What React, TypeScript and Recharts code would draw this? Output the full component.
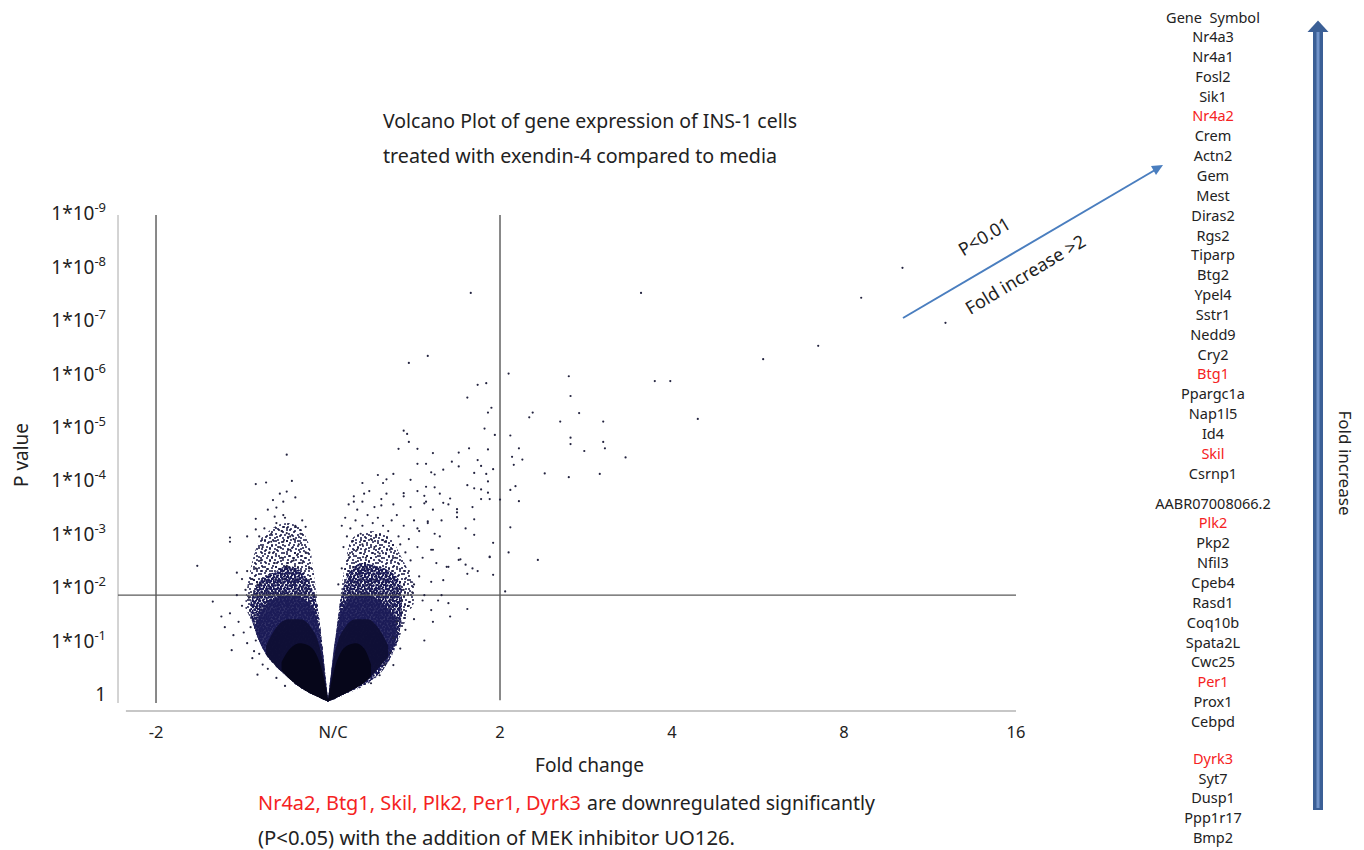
import React from 'react';
import { ComposedChart, Area, Scatter, XAxis, YAxis, ReferenceLine } from 'recharts';

const FONT = "'Noto Sans', 'Open Sans', sans-serif";

// x = log2 fold change, y = -log10 P
const FC_TICKS = [-1, 0, 1, 2, 3, 4];
const FC_LABELS = ['-2', 'N/C', '2', '4', '8', '16'];
const P_TICKS = [0, 1, 2, 3, 4, 5, 6, 7, 8, 9];

// dense cloud of genes near no change, by density: [log2FC, low -log10P, high -log10P]
const LEFT_SPARSE = [
  [-0.48, 1.75, 1.95], [-0.45, 1.55, 2.5], [-0.41, 1.2, 2.95], [-0.36, 0.88, 3.15], [-0.3, 0.65, 3.3],
  [-0.24, 0.47, 3.35], [-0.18, 0.3, 3.3], [-0.13, 0.2, 3.1], [-0.1, 0.15, 2.8], [-0.085, 0.13, 2.45],
  [-0.06, 0.09, 1.85], [-0.03, 0.05, 1.0], [-0.01, 0.02, 0.35], [0, 0, 0.04],
];
const LEFT_DENSE = [
  [-0.45, 1.6, 1.9], [-0.41, 1.22, 2.2], [-0.36, 0.9, 2.35], [-0.3, 0.66, 2.45], [-0.24, 0.48, 2.55],
  [-0.18, 0.31, 2.5], [-0.13, 0.21, 2.35], [-0.09, 0.15, 2.1], [-0.06, 0.1, 1.75], [-0.03, 0.05, 0.95],
  [-0.01, 0.02, 0.33], [0, 0, 0.04],
];
const LEFT_SOLID = [
  [-0.42, 1.3, 1.5], [-0.38, 1.0, 1.75], [-0.3, 0.68, 1.95], [-0.22, 0.43, 2.0], [-0.15, 0.26, 1.95],
  [-0.1, 0.16, 1.8], [-0.06, 0.1, 1.5], [-0.03, 0.05, 0.9], [-0.01, 0.02, 0.3], [0, 0, 0.04],
];
const LEFT_DARK = [
  [-0.36, 0.88, 1.05], [-0.3, 0.66, 1.4], [-0.23, 0.45, 1.55], [-0.16, 0.27, 1.55], [-0.1, 0.16, 1.4],
  [-0.06, 0.1, 1.15], [-0.03, 0.05, 0.75], [-0.01, 0.02, 0.28], [0, 0, 0.04],
];
const LEFT_CORE = [
  [-0.27, 0.6, 0.75], [-0.22, 0.42, 1.0], [-0.16, 0.27, 1.1], [-0.11, 0.17, 1.05], [-0.07, 0.11, 0.9],
  [-0.04, 0.06, 0.65], [-0.015, 0.03, 0.3], [0, 0.01, 0.04],
];
const RIGHT_SPARSE = [
  [0, 0, 0.04], [0.01, 0.02, 0.35], [0.04, 0.05, 1.0], [0.07, 0.09, 1.9], [0.1, 0.14, 2.6],
  [0.13, 0.18, 3.0], [0.18, 0.25, 3.15], [0.25, 0.38, 3.2], [0.32, 0.6, 3.15], [0.38, 0.92, 3.0],
  [0.42, 1.25, 2.75], [0.46, 1.6, 2.5], [0.5, 1.85, 2.2],
];
const RIGHT_DENSE = [
  [0, 0, 0.04], [0.01, 0.02, 0.33], [0.035, 0.05, 0.95], [0.065, 0.1, 1.75], [0.09, 0.14, 2.15],
  [0.13, 0.2, 2.45], [0.2, 0.3, 2.6], [0.27, 0.45, 2.55], [0.33, 0.65, 2.5], [0.38, 0.95, 2.4],
  [0.41, 1.2, 2.3], [0.43, 1.6, 2.15],
];
const RIGHT_SOLID = [
  [0, 0, 0.04], [0.01, 0.02, 0.3], [0.03, 0.05, 0.9], [0.06, 0.1, 1.5], [0.1, 0.16, 1.85],
  [0.16, 0.26, 2.0], [0.23, 0.42, 2.0], [0.3, 0.66, 1.9], [0.36, 0.9, 1.7], [0.4, 1.2, 1.5],
];
const RIGHT_DARK = [
  [0, 0, 0.04], [0.01, 0.02, 0.28], [0.03, 0.05, 0.75], [0.06, 0.1, 1.15], [0.1, 0.16, 1.4],
  [0.16, 0.26, 1.55], [0.23, 0.42, 1.55], [0.3, 0.66, 1.35], [0.35, 0.85, 1.05],
];
const RIGHT_CORE = [
  [0, 0.01, 0.04], [0.015, 0.03, 0.3], [0.04, 0.06, 0.65], [0.07, 0.11, 0.9], [0.11, 0.17, 1.05],
  [0.16, 0.26, 1.1], [0.21, 0.36, 1.0], [0.25, 0.48, 0.7],
];

// individual genes: [log2FC, -log10P]
const UP_GENES = [
  [1.05, 6.15], [1.4, 6.1], [1.41, 5.73], [1.19, 5.42], [1.17, 5.33], [1.46, 5.41], [1.35, 5.25],
  [1.6, 5.25], [1.06, 4.99], [1.41, 4.95], [1.41, 4.83], [1.6, 4.87], [1.61, 4.75], [1.49, 4.7],
  [1.73, 4.58], [1.11, 4.75], [1.07, 4.59], [1.08, 4.44], [1.13, 4.54], [1.26, 4.28], [1.4, 4.21],
  [1.58, 4.27], [1.06, 3.97], [1.09, 4.04], [1.11, 3.76], [1.06, 3.27], [1.05, 2.8], [1.22, 2.66],
  [1.03, 2.07], [1.0, 3.79], [2.15, 5.3], [1.82, 7.66], [1.9, 6.01], [1.99, 6.01], [2.53, 6.42],
  [2.85, 6.67], [3.1, 7.57], [3.34, 8.13], [3.59, 7.1], [0.83, 7.66], [0.58, 6.48], [0.47, 6.35],
  [0.92, 5.97], [0.87, 5.94], [0.81, 5.7], [0.95, 5.51], [0.93, 5.42], [0.91, 5.12], [0.97, 5.0],
  [0.44, 5.08], [0.46, 5.02], [0.47, 4.87],
];
const RIGHT_GENES = [
  [0.09, 2.9], [0.12, 2.75], [0.14, 3.0], [0.17, 2.85], [0.2, 2.95], [0.22, 2.7], [0.25, 3.05],
  [0.27, 2.9], [0.3, 2.78], [0.33, 3.0], [0.36, 2.85], [0.39, 2.7], [0.42, 2.95], [0.45, 2.8],
  [0.48, 2.65], [0.52, 2.9], [0.55, 2.7], [0.11, 3.1], [0.19, 3.15], [0.28, 3.12], [0.35, 3.2],
  [0.41, 3.1], [0.47, 3.05], [0.6, 2.85], [0.63, 2.6], [0.08, 3.3], [0.1, 3.45], [0.13, 3.25],
  [0.16, 3.4], [0.2, 3.3], [0.23, 3.5], [0.26, 3.35], [0.29, 3.45], [0.32, 3.3], [0.37, 3.4],
  [0.4, 3.5], [0.44, 3.3], [0.5, 3.4], [0.53, 3.2], [0.58, 3.35], [0.62, 3.15], [0.66, 3.4],
  [0.17, 3.6], [0.12, 3.7], [0.15, 3.85], [0.2, 3.75], [0.24, 3.95], [0.27, 3.65], [0.31, 3.8],
  [0.34, 3.9], [0.38, 3.7], [0.44, 3.85], [0.48, 3.65], [0.52, 3.95], [0.57, 3.75], [0.61, 3.6],
  [0.65, 3.9], [0.7, 3.7], [0.75, 3.55], [0.2, 4.1], [0.29, 4.25], [0.32, 4.1], [0.34, 4.17],
  [0.38, 4.27], [0.44, 3.91], [0.48, 4.16], [0.52, 4.46], [0.57, 4.46], [0.6, 4.3], [0.62, 4.26],
  [0.67, 4.35], [0.72, 4.5], [0.76, 4.41], [0.87, 4.53], [0.89, 4.42], [0.96, 4.36], [0.92, 4.27],
  [0.85, 4.29], [0.93, 4.13], [0.81, 4.06], [0.85, 4.0], [0.89, 3.98], [0.93, 3.92], [0.57, 4.03],
  [0.62, 4.02], [0.56, 3.86], [0.67, 3.73], [0.71, 3.81], [0.89, 3.8], [0.94, 3.8], [0.56, 3.72],
  [0.21, 3.9], [0.15, 3.75], [0.31, 3.68], [0.75, 3.61], [0.84, 3.65], [0.41, 4.74], [0.52, 4.74],
  [0.61, 4.66], [0.76, 4.67], [0.82, 4.75], [0.93, 4.73], [0.47, 2.45], [0.5, 2.2], [0.53, 2.35],
  [0.56, 2.0], [0.6, 2.25], [0.64, 1.9], [0.67, 2.28], [0.7, 2.53], [0.76, 2.66], [0.84, 2.5],
  [0.81, 2.4], [0.8, 2.57], [0.77, 2.67], [0.87, 2.45], [0.94, 2.72], [0.96, 2.38], [0.96, 2.98],
  [0.94, 2.71], [0.85, 3.13], [0.85, 3.42], [0.8, 3.25], [0.75, 3.46], [0.76, 2.88], [0.69, 2.53],
  [0.65, 3.1], [0.61, 2.85], [0.58, 3.38], [0.52, 3.25], [0.81, 1.74], [0.71, 1.6], [0.61, 1.5],
  [0.6, 1.72], [0.56, 1.15], [0.38, 0.69], [0.36, 0.92], [0.47, 1.8], [0.5, 1.55], [0.45, 1.35],
  [0.42, 1.0], [0.55, 1.9], [0.49, 2.05], [0.66, 2.0], [0.7, 1.85], [0.44, 2.1], [0.4, 1.5],
  [0.43, 1.9], [0.38, 1.2], [0.33, 0.7], [0.3, 0.5], [0.25, 0.35], [0.06, 2.2], [0.08, 2.5],
];
const LEFT_GENES = [
  [-0.42, 2.5], [-0.39, 2.65], [-0.36, 2.45], [-0.34, 2.8], [-0.31, 2.6], [-0.29, 2.9], [-0.27, 2.7],
  [-0.24, 2.55], [-0.22, 2.85], [-0.2, 2.65], [-0.17, 2.95], [-0.15, 2.6], [-0.13, 2.8], [-0.11, 2.5],
  [-0.38, 2.9], [-0.33, 3.0], [-0.26, 3.0], [-0.18, 2.75], [-0.44, 2.3], [-0.47, 2.45], [-0.5, 2.3],
  [-0.53, 2.42], [-0.41, 2.2], [-0.4, 3.1], [-0.37, 3.25], [-0.33, 3.15], [-0.3, 3.35], [-0.27, 3.2],
  [-0.25, 3.45], [-0.22, 3.1], [-0.19, 3.3], [-0.16, 3.15], [-0.13, 3.28], [-0.24, 3.16], [-0.2, 3.05],
  [-0.47, 3.1], [-0.42, 3.23], [-0.57, 3.08], [-0.57, 3.0], [-0.31, 3.47], [-0.26, 3.5], [-0.15, 3.4],
  [-0.3, 3.64], [-0.26, 3.75], [-0.19, 3.83], [-0.24, 3.94], [-0.21, 4.14], [-0.36, 4.11],
  [-0.42, 4.08], [-0.24, 4.63], [-0.28, 3.9], [-0.32, 3.78], [-0.42, 3.43], [-0.35, 3.6],
  [-0.76, 2.55], [-0.67, 1.88], [-0.57, 1.66], [-0.56, 0.97], [-0.44, 0.82], [-0.41, 0.51],
  [-0.52, 1.5], [-0.49, 1.3], [-0.5, 1.8], [-0.47, 1.1], [-0.53, 2.0], [-0.48, 2.1], [-0.46, 1.95],
  [-0.43, 0.95], [-0.38, 0.7], [-0.35, 0.62], [-0.3, 0.45], [-0.25, 0.3], [-0.55, 1.25], [-0.6, 1.4],
  [-0.62, 1.6], [-0.45, 1.4], [-0.42, 1.15], [-0.4, 0.9], [-0.1, 2.3], [-0.08, 2.0],
];

const GENES = [
  'Nr4a3', 'Nr4a1', 'Fosl2', 'Sik1', 'Nr4a2', 'Crem', 'Actn2', 'Gem', 'Mest', 'Diras2', 'Rgs2',
  'Tiparp', 'Btg2', 'Ypel4', 'Sstr1', 'Nedd9', 'Cry2', 'Btg1', 'Ppargc1a', 'Nap1l5', 'Id4', 'Skil',
  'Csrnp1', 'AABR07008066.2', 'Plk2', 'Pkp2', 'Nfil3', 'Cpeb4', 'Rasd1', 'Coq10b', 'Spata2L',
  'Cwc25', 'Per1', 'Prox1', 'Cebpd', 'Dyrk3', 'Syt7', 'Dusp1', 'Ppp1r17', 'Bmp2',
];
const MEK_GENES = ['Nr4a2', 'Btg1', 'Skil', 'Plk2', 'Per1', 'Dyrk3'];

const toPoints = (rows: number[][]) => rows.map(([x, y]) => ({ x, y }));
const toBand = (rows: number[][]) => rows.map(([x, lo, hi]) => ({ x, band: [lo, hi] }));

const GeneDot = (props: any) => <circle cx={props.cx} cy={props.cy} r={1.1} fill="#23233f" />;

const PTick = ({ y, payload }: any) => {
  const v = payload.value;
  return (
    <text x={106} y={y - 1} textAnchor="end" fontSize={19} fill="#222" fontFamily={FONT}>
      {v === 0 ? '1' : '1*10'}
      {v !== 0 && (
        <tspan dy={-8} fontSize={13}>
          -{v}
        </tspan>
      )}
    </text>
  );
};

const FcTick = ({ x, payload }: any) => (
  <text x={payload.value === 0 ? x + 5 : x} y={738} textAnchor="middle" fontSize={16.5} fill="#222" fontFamily={FONT}>
    {FC_LABELS[FC_TICKS.indexOf(payload.value)]}
  </text>
);

const geneY = (i: number) => 37 + i * 19.85 + (i >= 23 ? 10 : 0) + (i >= 35 ? 17 : 0);

const cloud = (rows: number[][], fill: string, opacity = 1) => (
  <Area data={toBand(rows)} dataKey="band" type="monotone" stroke="none" fill={fill} fillOpacity={opacity} isAnimationActive={false} />
);

const speck = (id: string, w: number, h: number, dots: number[][], r: number, color: string) => (
  <pattern id={id} width={w} height={h} patternUnits="userSpaceOnUse">
    {dots.map(([cx, cy], i) => (
      <circle key={i} cx={cx} cy={cy} r={r} fill={color} />
    ))}
  </pattern>
);

export default function App() {
  return (
    <div style={{ position: 'absolute', left: 0, top: 0, width: 1364, height: 850, background: '#fff' }}>
      {/* speckle textures for the dense gene cloud */}
      <svg width={0} height={0} style={{ position: 'absolute' }}>
        <defs>
          {speck('speckA', 13, 11, [[1, 2], [5, 1], [9, 3], [12, 7], [3, 6], [7, 8], [10, 10], [2, 10]], 1.0, '#18184a')}
          {speck('speckB', 11, 13, [[2, 4], [6, 2], [9, 7], [4, 10], [8, 12], [1, 8]], 1.0, '#10103a')}
          {speck('speckC', 7, 6, [[1, 1], [4, 0.5], [6, 3], [2.5, 3.5], [5, 5.5], [0.5, 5]], 1.2, '#161650')}
          {speck('speckD', 9, 8, [[3, 2], [7.5, 1], [1, 5], [5.5, 6], [8, 4.5]], 1.2, '#1c1c5c')}
        </defs>
      </svg>

      <ComposedChart width={1364} height={850} margin={{ top: 215, right: 348, bottom: 79, left: 18 }}>
        <XAxis
          type="number"
          dataKey="x"
          domain={[-1.221, 4.0]}
          ticks={FC_TICKS}
          tick={<FcTick />}
          tickLine={false}
          axisLine={false}
          height={60}
          allowDataOverflow
        />
        <YAxis
          type="number"
          domain={[-0.17, 9.12]}
          ticks={P_TICKS}
          tick={<PTick />}
          tickLine={false}
          axisLine={false}
          width={100}
          allowDataOverflow
        />
        {cloud(LEFT_SPARSE, 'url(#speckA)')}
        {cloud(LEFT_SPARSE, 'url(#speckB)')}
        {cloud(RIGHT_SPARSE, 'url(#speckA)')}
        {cloud(RIGHT_SPARSE, 'url(#speckB)')}
        {cloud(LEFT_DENSE, 'url(#speckC)')}
        {cloud(RIGHT_DENSE, 'url(#speckC)')}
        {cloud(LEFT_DENSE, 'url(#speckD)')}
        {cloud(RIGHT_DENSE, 'url(#speckD)')}
        {cloud(LEFT_SOLID, '#1c1c58', 0.9)}
        {cloud(RIGHT_SOLID, '#1c1c58', 0.9)}
        {cloud(LEFT_DARK, '#0e0e33', 0.92)}
        {cloud(RIGHT_DARK, '#0e0e33', 0.92)}
        {cloud(LEFT_CORE, '#06061a')}
        {cloud(RIGHT_CORE, '#06061a')}
        <Scatter data={toPoints(LEFT_GENES)} dataKey="y" shape={<GeneDot />} isAnimationActive={false} />
        <Scatter data={toPoints(RIGHT_GENES)} dataKey="y" shape={<GeneDot />} isAnimationActive={false} />
        <Scatter data={toPoints(UP_GENES)} dataKey="y" shape={<GeneDot />} isAnimationActive={false} />
        <ReferenceLine segment={[{ x: -1.221, y: -0.02 }, { x: -1.221, y: 9.12 }]} stroke="#a8a8a8" strokeWidth={1} />
        <ReferenceLine segment={[{ x: -1.175, y: -0.17 }, { x: 4.0, y: -0.17 }]} stroke="#b4b4b4" strokeWidth={1.5} />
        <ReferenceLine segment={[{ x: -1, y: -0.02 }, { x: -1, y: 9.12 }]} stroke="#4a4a4a" strokeWidth={1.3} />
        <ReferenceLine segment={[{ x: 1, y: 0.03 }, { x: 1, y: 9.12 }]} stroke="#4a4a4a" strokeWidth={1.3} />
        <ReferenceLine y={2} stroke="#5a5a5a" strokeWidth={1.3} />
      </ComposedChart>

      <svg width={1364} height={850} style={{ position: 'absolute', left: 0, top: 0, pointerEvents: 'none' }} fontFamily={FONT}>
        <text x={383} y={128} fontSize={20} fill="#222" textLength={414} lengthAdjust="spacingAndGlyphs">
          Volcano Plot of gene expression of INS-1 cells
        </text>
        <text x={383} y={163} fontSize={20} fill="#222" textLength={394} lengthAdjust="spacingAndGlyphs">
          treated with exendin-4 compared to media
        </text>

        <text transform="translate(21,455) rotate(-90)" textAnchor="middle" dominantBaseline="central" fontSize={19} fill="#222">
          P value
        </text>
        <text x={535} y={772} fontSize={19} fill="#222" textLength={109} lengthAdjust="spacingAndGlyphs">
          Fold change
        </text>

        <text x={258} y={810} fontSize={19} fill="#f52222" textLength={323} lengthAdjust="spacingAndGlyphs">
          {MEK_GENES.join(', ')}
        </text>
        <text x={587} y={810} fontSize={19} fill="#222" textLength={288} lengthAdjust="spacingAndGlyphs">
          are downregulated significantly
        </text>
        <text x={258} y={845} fontSize={19} fill="#222" textLength={477} lengthAdjust="spacingAndGlyphs">
          (P&lt;0.05) with the addition of MEK inhibitor UO126.
        </text>

        {/* annotation arrow */}
        <line x1={903} y1={318} x2={1155} y2={170} stroke="#4a7ebf" strokeWidth={2} />
        <polygon points="1163,165 1156,175 1151,166" fill="#4a7ebf" />
        <text transform="translate(984,236) rotate(-31)" textAnchor="middle" dominantBaseline="central" fontSize={18} fill="#222">
          P&lt;0.01
        </text>
        <text transform="translate(1025,274) rotate(-31)" textAnchor="middle" dominantBaseline="central" fontSize={18} fill="#222">
          Fold increase &gt;2
        </text>

        {/* gene list */}
        <text x={1213} y={23} textAnchor="middle" fontSize={14.5} fill="#222">
          Gene{'\u00a0\u00a0'}Symbol
        </text>
        {GENES.map((g, i) => (
          <text key={g} x={1213} y={geneY(i) + 5} textAnchor="middle" fontSize={14.5} fill={MEK_GENES.includes(g) ? '#f52222' : '#222'}>
            {g}
          </text>
        ))}

        {/* fold increase arrow */}
        <rect x={1313} y={31} width={10} height={779} fill="#3b5f96" />
        <rect x={1316.5} y={31} width={3} height={777} fill="#7193c9" />
        <polygon points="1307.5,32 1318,20.5 1328.5,32" fill="#3b5f96" />
        <text transform="translate(1345,463) rotate(90)" textAnchor="middle" dominantBaseline="central" fontSize={17} fill="#222">
          Fold increase
        </text>
      </svg>
    </div>
  );
}
